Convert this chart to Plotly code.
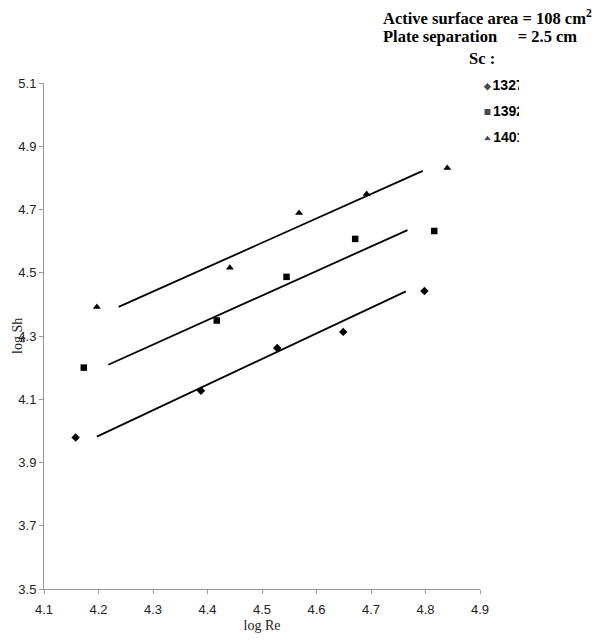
import plotly.graph_objects as go

# Data
sc_labels = ["1327", "1392", "1401"]
logre_1327 = [4.158, 4.388, 4.528, 4.649, 4.798]
logsh_1327 = [3.979, 4.127, 4.262, 4.313, 4.442]
logre_1392 = [4.173, 4.417, 4.545, 4.671, 4.816]
logsh_1392 = [4.200, 4.349, 4.487, 4.607, 4.632]
logre_1401 = [4.197, 4.441, 4.568, 4.692, 4.840]
logsh_1401 = [4.392, 4.516, 4.689, 4.749, 4.831]

# Correlation lines (end points)
fit_x_1327 = [4.197, 4.764]
fit_y_1327 = [3.982, 4.441]
fit_x_1392 = [4.218, 4.767]
fit_y_1392 = [4.209, 4.635]
fit_x_1401 = [4.237, 4.795]
fit_y_1401 = [4.392, 4.822]

x_ticks = [4.1, 4.2, 4.3, 4.4, 4.5, 4.6, 4.7, 4.8, 4.9]
y_ticks = [3.5, 3.7, 3.9, 4.1, 4.3, 4.5, 4.7, 4.9, 5.1]

symbols = ["diamond", "square", "triangle-up"]
sizes = [6.5, 6.5, 7]

series = [
    (logre_1327, logsh_1327, fit_x_1327, fit_y_1327),
    (logre_1392, logsh_1392, fit_x_1392, fit_y_1392),
    (logre_1401, logsh_1401, fit_x_1401, fit_y_1401),
]

fig = go.Figure()
for i, (xs, ys, fx, fy) in enumerate(series):
    fig.add_trace(go.Scatter(
        x=xs, y=ys, mode="markers", name=sc_labels[i], showlegend=False,
        marker=dict(symbol=symbols[i], size=sizes[i], color="black"),
    ))
    fig.add_trace(go.Scatter(
        x=fx, y=fy, mode="lines", showlegend=False,
        line=dict(color="black", width=1.8),
    ))

# Key (legend) drawn on its own small axes, text clipped like the original
key_x = [0.3, 0.3, 0.3]
key_y = [0.79, 0.475, 0.14]
fig.add_trace(go.Scatter(
    x=key_x, y=key_y, xaxis="x2", yaxis="y2", mode="markers+text",
    text=sc_labels, textposition="middle right", cliponaxis=True,
    marker=dict(symbol=symbols, size=[6.5, 7, 7.5], color="black"),
    textfont=dict(family="Liberation Sans, Arial", size=14, color="black", weight="bold"),
    showlegend=False, hoverinfo="skip",
))

# page pixel coordinates (body margin removed below)
W, H = 608, 642
L, T, B, R = 44, 63, 53, 20
pw = W - L - R
ph = H - T - B

def px(x_pix):
    return (x_pix - L) / pw

def py(y_pix):
    return (H - B - y_pix) / ph

serif = "Liberation Serif, Times New Roman"

fig.update_layout(
    width=W, height=H,
    margin=dict(l=L, r=R, t=T, b=B, autoexpand=False),
    paper_bgcolor="white", plot_bgcolor="white",
    showlegend=False,
    font=dict(family="Liberation Sans, Arial", size=13, color="#222"),
    xaxis=dict(
        domain=[0, px(480)], anchor="y",
        range=[4.1, 4.9], tickvals=x_ticks, ticktext=[f"{v:.1f}" for v in x_ticks],
        showgrid=False, zeroline=False, showline=True, linecolor="#999", linewidth=1,
        ticks="outside", ticklen=4, tickcolor="#999", ticklabelstandoff=4,
        title=dict(text="log Re", font=dict(family=serif, size=14, color="#222"), standoff=4),
    ),
    yaxis=dict(
        domain=[0, py(83)], anchor="x",
        range=[3.5, 5.1], tickvals=y_ticks, ticktext=[f"{v:.1f}" for v in y_ticks],
        showgrid=False, zeroline=False, showline=True, linecolor="#999", linewidth=1,
        ticks="outside", ticklen=4, tickcolor="#999",
    ),
    xaxis2=dict(domain=[px(474), px(519)], range=[0, 1], anchor="y2", visible=False, fixedrange=True),
    yaxis2=dict(domain=[py(150), py(70)], range=[0, 1], anchor="x2", visible=False, fixedrange=True),
)

# y-axis title placed as in the original (overlapping the tick labels)
fig.add_annotation(
    xref="paper", yref="paper", x=px(17), y=py(336), xanchor="center", yanchor="middle",
    text="log Sh", textangle=-90, showarrow=False,
    font=dict(family=serif, size=14, color="#222"),
)

fig.add_annotation(
    xref="paper", yref="paper", x=px(381), y=py(17), xanchor="left", yanchor="middle",
    text="<b>Active surface area = 108 cm<sup>2</sup></b>", showarrow=False,
    font=dict(family=serif, size=16.5, color="black"),
)
fig.add_annotation(
    xref="paper", yref="paper", x=px(381), y=py(37), xanchor="left", yanchor="middle",
    text="<b>Plate separation\u00a0\u00a0\u00a0\u00a0\u00a0= 2.5 cm</b>", showarrow=False,
    font=dict(family=serif, size=16.5, color="black"),
)
fig.add_annotation(
    xref="paper", yref="paper", x=px(482), y=py(59), xanchor="center", yanchor="middle",
    text="<b>Sc :</b>", showarrow=False,
    font=dict(family=serif, size=16.5, color="black"),
)

fig.write_html(
    "out.html",
    config={"displayModeBar": False},
    post_script="document.body.style.margin='0';document.body.style.overflow='hidden';",
)
